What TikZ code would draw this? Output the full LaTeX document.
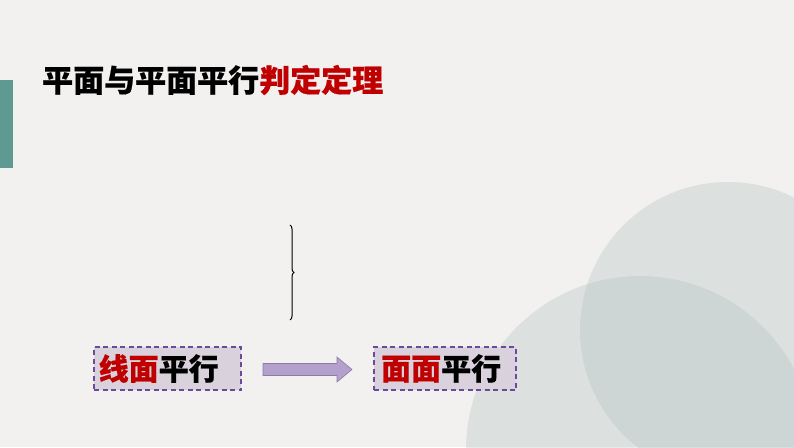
\documentclass[tikz,border=0pt]{standalone}
\usepackage{fontspec}
\newfontfamily\cjk{Noto Sans CJK SC}[BoldFeatures={FakeBold=0.5}]
\usetikzlibrary{decorations.pathreplacing}
\definecolor{bgc}{HTML}{F2F1EF}
\definecolor{circc}{HTML}{ACBFBC}
\definecolor{barc}{HTML}{5F9A92}
\definecolor{redc}{HTML}{C00000}
\definecolor{boxfill}{HTML}{D9D2DC}
\definecolor{boxline}{HTML}{6A4A9C}
\definecolor{arrfill}{HTML}{B4A0CD}
\definecolor{arrline}{HTML}{8C7BA6}
\tikzset{
  dbox/.style={draw=boxline, fill=boxfill, dash pattern=on 5pt off 3.5pt, line width=1.4pt,
    minimum height=43pt, inner sep=0pt},
  boxtext/.style={anchor=west, inner sep=0pt, font=\cjk\bfseries\fontsize{30}{30}\selectfont},
  blockarrow/.style={draw=arrline, fill=arrfill, line width=0.6pt}
}
\begin{document}
\begin{tikzpicture}[x=1pt,y=1pt]
\fill[bgc] (0,0) rectangle (794,447);
\useasboundingbox (0,0) rectangle (794,447);
\begin{scope}
\clip (0,0) rectangle (794,447);
\fill[circc, opacity=0.3] (728,117) circle (148);
\fill[circc, opacity=0.3] (640,-3) circle (174);
\end{scope}
\fill[barc] (0,279) rectangle (13,367);
\node[anchor=west, inner sep=0pt, font=\cjk\bfseries\fontsize{31}{31}\selectfont] (title) at (42,367)
  {平面与平面平行\textcolor{redc}{判定定理}};
\coordinate (bt) at (290,222);
\coordinate (bb) at (290,127);
\draw[line width=1pt, decorate, decoration={brace, amplitude=4pt}] (bt) -- (bb);
\node[dbox, minimum width=147pt] (b1) at (167.5,78.5) {};
\node[boxtext] (t1) at (98.5,78.5) {\textcolor{redc}{线面}平行};
\node[dbox, minimum width=142pt] (b2) at (445,78.5) {};
\node[boxtext] (t2) at (381,78.5) {\textcolor{redc}{面面}平行};
\coordinate (as) at (263,77.5);
\coordinate (ae) at (352,77.5);
\draw[blockarrow] (as) ++(0,6) -- ++(74,0) -- ++(0,6.5) -- (ae) -- ++(-15,-12.5) -- ++(0,6.5) -- ++(-74,0) -- cycle;
\end{tikzpicture}
\end{document}
